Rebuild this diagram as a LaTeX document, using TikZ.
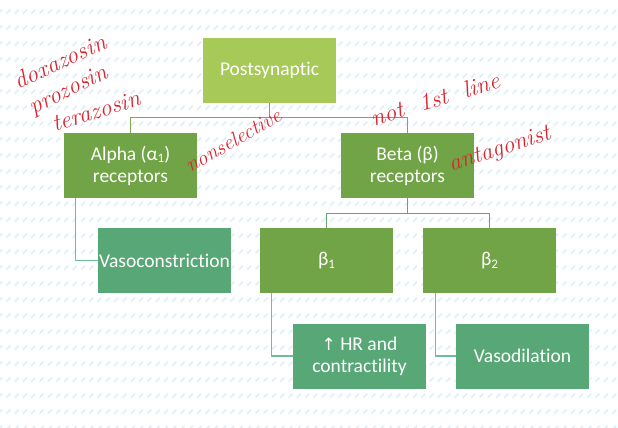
\documentclass[tikz,border=0pt]{standalone}
\usepackage{fontspec}
\newfontfamily\boxfont{Carlito}[Ligatures={NoCommon}]
\newfontfamily\symfont{DejaVu Sans}
\usetikzlibrary{calc}
\definecolor{lightgreen}{HTML}{A6C958}
\definecolor{midgreen}{HTML}{70A446}
\definecolor{tealgreen}{HTML}{58A776}
\definecolor{toplink}{HTML}{7BAA50}
\definecolor{midlink}{HTML}{5FA872}
\definecolor{lowlink}{HTML}{6DBF9C}
\definecolor{inkred}{HTML}{D8262F}
\definecolor{patblue}{HTML}{DEEFFB}
\newcommand{\subdigit}[1]{\raisebox{-0.3ex}{\fontsize{13}{13}\selectfont #1}}
\begin{document}
\begin{tikzpicture}[x=1pt,y=-1pt,
  box/.style={rectangle, minimum width=133pt, minimum height=65pt, inner sep=0pt,
    text=white, align=center, font=\boxfont\fontsize{19.5}{22}\selectfont},
  toprow/.style={box, fill=lightgreen},
  midrow/.style={box, fill=midgreen},
  lowrow/.style={box, fill=tealgreen},
  link/.style={line width=1.2pt},
  hand/.style={text=inkred, inner sep=0pt, font=\itshape\fontsize{24}{26}\selectfont}]
\useasboundingbox (0,0) rectangle (618,428);
\fill[white] (0,0) rectangle (618,428);
\begin{scope}
\clip (0,0) rectangle (618,428);
\foreach \r in {0,...,26}{
  \pgfmathsetmacro\yy{11.7+16*\r}
  \draw[patblue, line width=1.6pt] \foreach \c in {0,...,75}{ ({\c*8.3-2},{\yy+2}) -- ++(4,-4) };
}
\end{scope}
% boxes
\node[toprow] (post) at (269.5,70.5) {Postsynaptic};
\node[midrow] (alpha) at (130.5,165.5) {Alpha (α\subdigit{1})\\receptors};
\node[midrow] (beta) at (407.5,165.5) {Beta (β)\\receptors};
\node[lowrow] (vaso) at (164.5,260.5) {Vasoconstriction};
\node[midrow] (b1) at (326.5,260.5) {β\subdigit{1}};
\node[midrow] (b2) at (489.5,260.5) {β\subdigit{2}};
\node[lowrow] (hr) at (359.5,356) {{\symfont\fontsize{17}{22}\selectfont ↑} HR and\\contractility};
\node[lowrow] (vd) at (522.5,356) {Vasodilation};
% connectors
\draw[link, toplink] (post.south) -- ++(0,14) -| (alpha.north);
\draw[link, toplink] (post.south) -- ++(0,14) -| (beta.north);
\draw[link, midlink] (beta.south) -- ++(0,15) -| (b1.north);
\draw[link, midlink] (beta.south) -- ++(0,15) -| (b2.north);
\draw[link, lowlink] ($(alpha.south west)+(12,0)$) |- (vaso.west);
\draw[link, lowlink] ($(b1.south west)+(12,0)$) |- (hr.west);
\draw[link, lowlink] ($(b2.south west)+(13,0)$) |- (vd.west);
% handwritten notes
\node[hand, rotate=25] (n1) at (60,61) {doxazosin};
\node[hand, rotate=26] (n2) at (69,91) {prozosin};
\node[hand, rotate=17] (n3) at (96,111) {terazosin};
\node[hand, rotate=30, font=\itshape\fontsize{21}{24}\selectfont] (n4) at (233,140) {nonselective};
\node[hand, rotate=17] (n5) at (435,99) {not\ \ 1st\ \ line};
\node[hand, rotate=18] (n6) at (500,150) {antagonist};
\end{tikzpicture}
\end{document}
